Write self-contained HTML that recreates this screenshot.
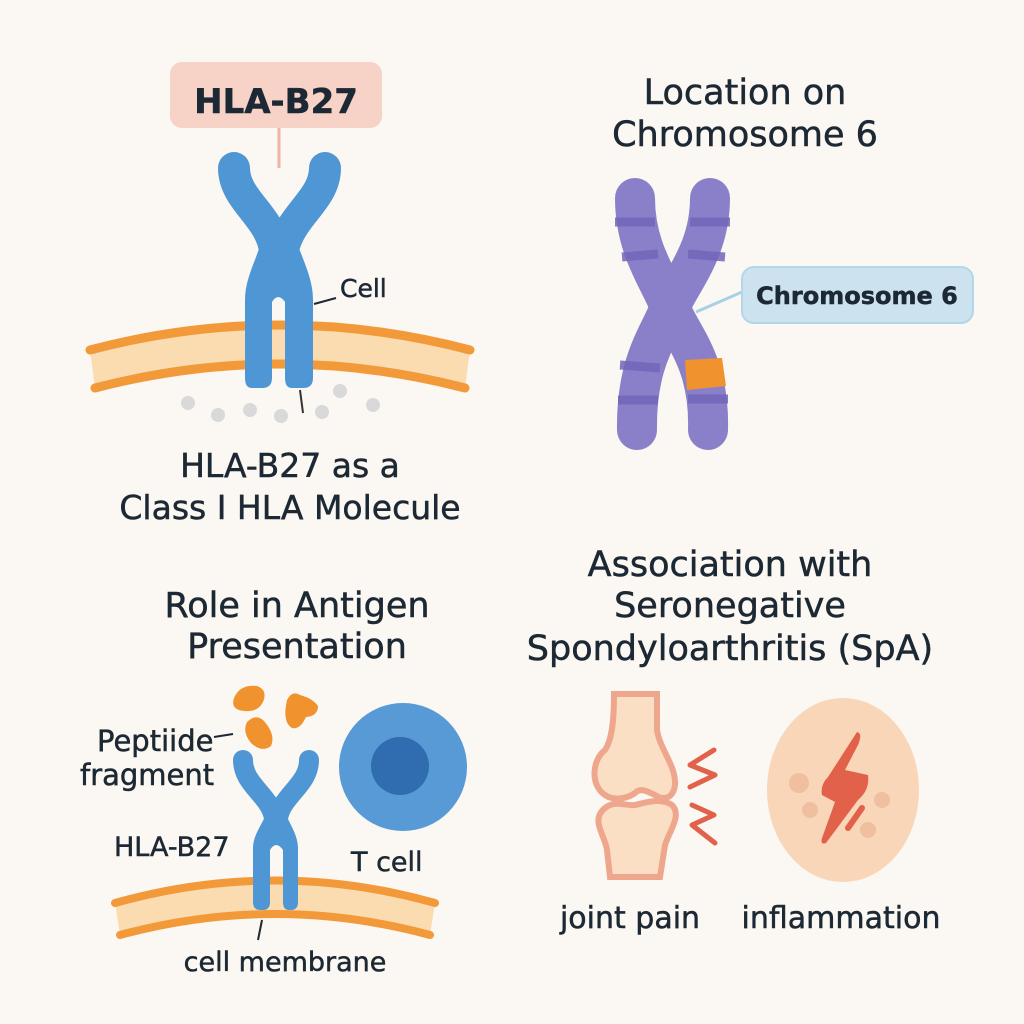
<!DOCTYPE html>
<html><head><meta charset="utf-8"><style>
html,body{margin:0;padding:0;background:#fbf7f2}
svg{display:block}
text{font-family:"DejaVu Sans","Liberation Sans",sans-serif;fill:#1c2833;stroke:#1c2833;stroke-width:0.5}
</style></head><body>
<svg width="1024" height="1024" viewBox="0 0 1024 1024">
<rect width="1024" height="1024" fill="#fbf7f2"/>

<!-- TOP LEFT -->
<rect x="170" y="62" width="212" height="66" rx="12" fill="#f7d2c6"/>
<text x="276" y="113" font-size="34" font-weight="bold" text-anchor="middle">HLA-B27</text>
<line x1="279" y1="128" x2="279" y2="168" stroke="#f0b4a4" stroke-width="3"/>
<path d="M90,350 Q280,300 470,350 L465,388 Q280,340 95,388 Z" fill="#fbdcb0"/>
<path d="M90,350 Q280,300 470,350" fill="none" stroke="#f29a3a" stroke-width="9" stroke-linecap="round"/>
<path d="M95,388 Q280,340 465,388" fill="none" stroke="#f29a3a" stroke-width="9" stroke-linecap="round"/>
<g fill="none" stroke="#4f97d4" stroke-linecap="round" stroke-width="32">
<path d="M234,168 C234,200 270,215 275,250"/>
<path d="M325,168 C325,200 290,215 283,250"/>
</g>
<path d="M262,240 L296,240 C305,265 313,280 313,300 L313,378 Q313,388 303,388 L292,388 Q285,388 285,378 L285,302 Q278,292 272,302 L272,378 Q272,388 262,388 L252,388 Q245,388 245,378 L245,300 C245,280 254,265 262,240 Z" fill="#4f97d4"/>
<line x1="314" y1="304" x2="336" y2="298" stroke="#1c2833" stroke-width="2"/>
<text x="340" y="297" font-size="25">Cell</text>
<line x1="300" y1="390" x2="303" y2="413" stroke="#333" stroke-width="2"/>
<g fill="#d9d9d9">
<circle cx="188" cy="403" r="7"/><circle cx="218" cy="415" r="7"/><circle cx="250" cy="410" r="7"/>
<circle cx="281" cy="416" r="7"/><circle cx="322" cy="412" r="7"/><circle cx="340" cy="391" r="7"/><circle cx="373" cy="405" r="7"/>
</g>
<text x="290" y="477" font-size="33" text-anchor="middle">HLA-B27 as a</text>
<text x="290" y="519" font-size="33" text-anchor="middle">Class I HLA Molecule</text>

<!-- TOP RIGHT -->
<text x="745" y="104" font-size="35" text-anchor="middle">Location on</text>
<text x="745" y="146" font-size="35" text-anchor="middle">Chromosome 6</text>
<g fill="none" stroke="#8a80c9" stroke-linecap="round" stroke-width="40">
<path d="M635,198 C635,250 660,280 670,307 C680,335 710,360 708,430"/>
<path d="M710,198 C710,250 682,280 670,307 C660,335 636,360 637,430"/>
</g>
<g stroke="#7166b8" stroke-width="9" opacity="0.85">
<line x1="615" y1="222" x2="655" y2="222"/><line x1="690" y1="222" x2="730" y2="222"/>
<line x1="622" y1="257" x2="658" y2="254"/><line x1="688" y1="254" x2="725" y2="257"/>
<line x1="620" y1="365" x2="660" y2="368"/><line x1="618" y1="400" x2="658" y2="400"/>
<line x1="688" y1="399" x2="728" y2="399"/>
</g>
<path d="M685,360 L722,358 L726,386 L687,390 Z" fill="#f0922e"/>
<line x1="696" y1="312" x2="742" y2="292" stroke="#a9d1e6" stroke-width="3"/>
<rect x="742" y="267" width="231" height="56" rx="12" fill="#cce3ef" stroke="#b2d6ea" stroke-width="2"/>
<text x="857" y="304" font-size="24" font-weight="bold" text-anchor="middle">Chromosome 6</text>

<!-- BOTTOM LEFT -->
<text x="297" y="617" font-size="35" text-anchor="middle">Role in Antigen</text>
<text x="297" y="658" font-size="35" text-anchor="middle">Presentation</text>
<path d="M115,903 Q275,858 435,903 L430,935 Q275,893 120,935 Z" fill="#fbdcb0"/>
<path d="M115,903 Q275,858 435,903" fill="none" stroke="#f29a3a" stroke-width="8" stroke-linecap="round"/>
<path d="M120,935 Q275,893 430,935" fill="none" stroke="#f29a3a" stroke-width="8" stroke-linecap="round"/>
<g fill="none" stroke="#4f97d4" stroke-linecap="round" stroke-width="20">
<path d="M243,760 C243,785 270,795 274,818"/>
<path d="M309,760 C309,785 282,795 278,818"/>
</g>
<path d="M268,810 L284,810 C290,825 298,835 298,848 L298,902 Q298,910 291,910 L289,910 Q283,910 283,902 L283,850 Q276,840 270,850 L270,902 Q270,910 263,910 L260,910 Q253,910 253,902 L253,848 C253,835 262,825 268,810 Z" fill="#4f97d4"/>
<g fill="#f0922e">
<path d="M234,698 Q240,684 257,686 Q268,690 263,702 Q258,712 245,711 Q230,710 234,698 Z"/>
<path d="M287,700 Q292,690 300,695 Q312,698 318,706 Q318,716 306,717 Q300,730 292,728 Q282,722 287,700 Z"/>
<path d="M247,722 Q256,713 264,721 Q276,735 271,746 Q262,753 251,743 Q242,732 247,722 Z"/>
</g>
<circle cx="403" cy="767" r="64" fill="#579ad6"/>
<circle cx="400" cy="766" r="29" fill="#2f6db0"/>
<text x="97" y="751" font-size="29">Peptiide</text>
<line x1="214" y1="737" x2="233" y2="734" stroke="#1c2833" stroke-width="2"/>
<text x="80" y="785" font-size="29">fragment</text>
<text x="114" y="856" font-size="27">HLA-B27</text>
<text x="351" y="871" font-size="27">T cell</text>
<line x1="262" y1="920" x2="258" y2="940" stroke="#1c2833" stroke-width="2"/>
<text x="285" y="971" font-size="27" text-anchor="middle">cell membrane</text>

<!-- BOTTOM RIGHT -->
<text x="730" y="576" font-size="35" text-anchor="middle">Association with</text>
<text x="730" y="617" font-size="35" text-anchor="middle">Seronegative</text>
<text x="730" y="660" font-size="35" text-anchor="middle">Spondyloarthritis (SpA)</text>
<path d="M614,694 L657,694 L657,730 C660,750 676,765 675,785 C673,800 662,800 655,795 C645,790 640,788 635,793 C625,800 612,800 605,795 C590,785 592,760 605,750 C612,740 614,720 614,694 Z" fill="#fbdfc5" stroke="#eea78c" stroke-width="6"/>
<path d="M605,808 C615,800 625,806 635,805 C645,803 660,797 672,805 C682,815 670,830 665,845 L660,877 L610,877 L607,850 C605,835 590,820 605,808 Z" fill="#fbdfc5" stroke="#eea78c" stroke-width="6"/>
<g fill="none" stroke="#e2614a" stroke-width="5" stroke-linecap="round" stroke-linejoin="round">
<path d="M714,750 L690,765 L715,775 L690,787"/>
<path d="M692,805 L714,815 L692,825 L715,843"/>
</g>
<ellipse cx="843" cy="790" rx="76" ry="92" fill="#f9d6b8"/>
<g fill="#efbfa0">
<circle cx="799" cy="783" r="10"/><circle cx="810" cy="810" r="8"/><circle cx="882" cy="800" r="8"/><circle cx="868" cy="830" r="8"/>
</g>
<path d="M857,732 Q863,733 858,745 L845,770 L868,775 Q870,790 858,800 L826,843 Q820,845 822,838 L835,802 L822,795 Q820,785 828,777 Z" fill="#e2614a"/>
<path d="M862,808 L848,828" stroke="#e2614a" stroke-width="6" stroke-linecap="round"/>
<text x="630" y="928" font-size="30" text-anchor="middle">joint pain</text>
<text x="841" y="928" font-size="30" text-anchor="middle">inflammation</text>
</svg>
</body></html>
